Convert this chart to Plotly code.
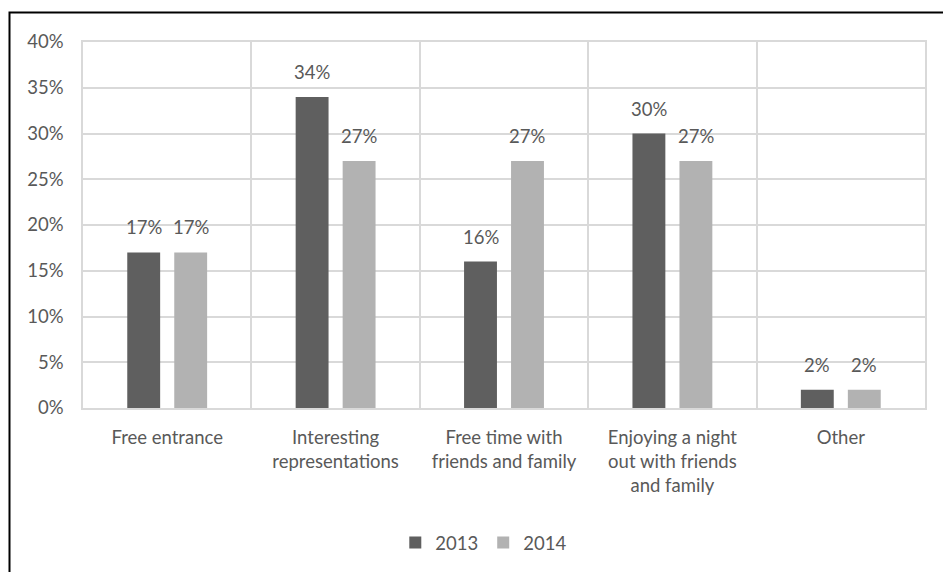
import plotly.graph_objects as go

categories = [
    "Free entrance",
    "Interesting<br>representations",
    "Free time with<br>friends and family",
    "Enjoying a night<br>out with friends<br>and family",
    "Other",
]
values_2013 = [0.17, 0.34, 0.16, 0.30, 0.02]
values_2014 = [0.17, 0.27, 0.27, 0.27, 0.02]
series = [("2013", values_2013, "#5f5f5f"), ("2014", values_2014, "#b2b2b2")]

W, H = 943, 572
L, R, T, B = 83, 18, 42, 163
plot_w, plot_h = W - L - R, H - T - B

FONT = "Lato, 'Open Sans', sans-serif"
FS = 18.5
TEXT = "#595959"
GRID = "#d9d9d9"

fig = go.Figure()
for name, vals, color in series:
    fig.add_trace(go.Bar(x=categories, y=vals, name=name, marker_color=color,
                         marker_line_width=0))

# value labels above each bar
slot_px = plot_w / len(categories) * (1 - 0.442) / 2
for i, (name, vals, color) in enumerate(series):
    shift = (i - 0.5) * slot_px
    for cat, v in zip(categories, vals):
        fig.add_annotation(x=cat, y=v, text=f"{round(v * 100)}%", showarrow=False,
                           xshift=shift, yanchor="bottom", yshift=12,
                           font=dict(family=FONT, size=FS, color=TEXT))

# outer frame (left and top edges visible)
def px_x(px):
    return (px - L) / plot_w

def px_y(py):
    return (H - B - py) / plot_h

fig.add_shape(type="path", xref="paper", yref="paper",
              path=f"M {px_x(9.5)},{px_y(590)} L {px_x(9.5)},{px_y(12.5)} L {px_x(960)},{px_y(12.5)}",
              line=dict(color="#000000", width=2))

fig.update_layout(
    width=W, height=H,
    margin=dict(l=L, r=R, t=T, b=B, pad=0),
    paper_bgcolor="white", plot_bgcolor="white",
    barmode="group", bargap=0.442, bargroupgap=0.30,
    font=dict(family=FONT, size=FS, color=TEXT),
    showlegend=True,
    legend=dict(orientation="h", x=0.476, xanchor="center", y=px_y(543), yanchor="middle",
                font=dict(family=FONT, size=FS, color=TEXT), itemwidth=30,
                traceorder="normal"),
)
fig.update_xaxes(type="category", tickson="boundaries", showgrid=True, gridcolor=GRID,
                 gridwidth=1.5, showline=True, linecolor=GRID, linewidth=1.5, mirror=True,
                 ticks="", ticklabelstandoff=12, tickfont=dict(family=FONT, size=FS, color=TEXT),
                 range=[-0.5, 4.5], fixedrange=True)
fig.update_yaxes(range=[0, 0.40], dtick=0.05, tickformat=".0%", showgrid=True,
                 gridcolor=GRID, gridwidth=1.5, showline=True, linecolor=GRID, linewidth=1.5,
                 mirror=True, zeroline=False, ticks="", ticklabelstandoff=14,
                 tickfont=dict(family=FONT, size=FS, color=TEXT), fixedrange=True)

fig.write_html("out.html")
